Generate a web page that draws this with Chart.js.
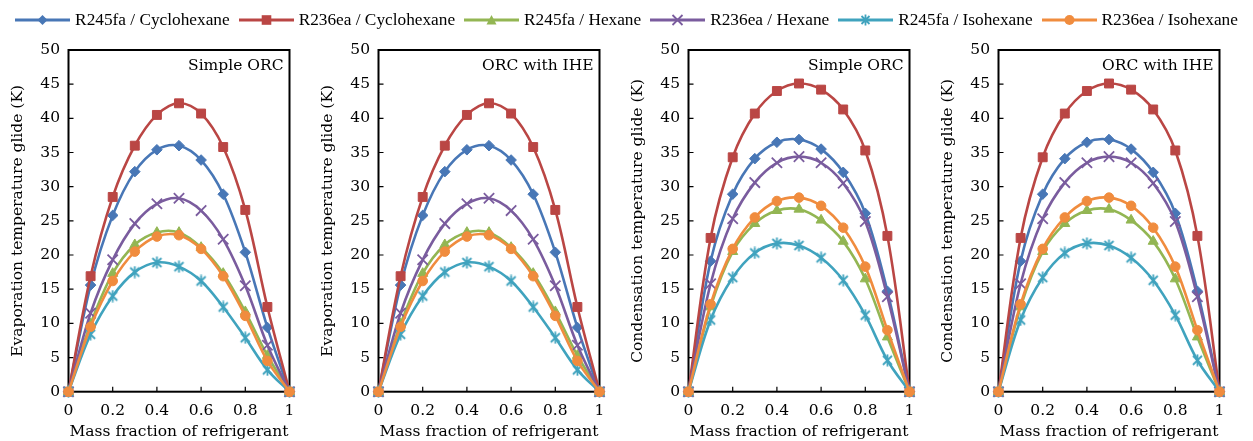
<!DOCTYPE html>
<html>
<head>
<meta charset="utf-8">
<script src="https://cdn.jsdelivr.net/npm/chart.js@4.4.1/dist/chart.umd.min.js"></script>
<style>
  html, body { margin: 0; padding: 0; background: #fff; }
  #wrap { position: relative; width: 1253px; height: 441px; overflow: hidden; }
  #wrap canvas { position: absolute; top: 0; }
  #legend {
    position: absolute; top: 9px; left: 0; width: 1253px; z-index: 2;
    display: flex; justify-content: center; gap: 9px;
    font-family: "Liberation Serif", serif; font-size: 17.3px; line-height: 22px; color: #000;
  }
  .item { display: flex; align-items: center; white-space: nowrap; }
  .item svg { margin-right: 5px; }
</style>
</head>
<body>
<div id="wrap">
  <div id="legend"></div>
  <canvas id="p1" width="310" height="441" style="left:0px"></canvas>
  <canvas id="p2" width="310" height="441" style="left:310px"></canvas>
  <canvas id="p3" width="310" height="441" style="left:620px"></canvas>
  <canvas id="p4" width="323" height="441" style="left:930px"></canvas>
</div>
<script>
// Mass fraction of refrigerant in the mixture
const massFraction = [0, 0.1, 0.2, 0.3, 0.4, 0.5, 0.6, 0.7, 0.8, 0.9, 1];

const seriesNames = [
  'R245fa / Cyclohexane', 'R236ea / Cyclohexane', 'R245fa / Hexane',
  'R236ea / Hexane', 'R245fa / Isohexane', 'R236ea / Isohexane'
];

// Evaporation temperature glide (K)
const evapR245faCyclohexane = [0, 15.6, 25.8, 32.2, 35.4, 36.0, 33.9, 28.9, 20.4, 9.4, 0];
const evapR236eaCyclohexane = [0, 16.9, 28.5, 36.0, 40.5, 42.2, 40.7, 35.8, 26.6, 12.4, 0];
const evapR245faHexane      = [0, 9.9, 17.3, 21.5, 23.3, 23.3, 21.1, 17.3, 11.7, 5.3, 0];
const evapR236eaHexane      = [0, 11.5, 19.3, 24.6, 27.5, 28.3, 26.5, 22.3, 15.5, 6.8, 0];
const evapR245faIsohexane   = [0, 8.4, 14.0, 17.5, 18.9, 18.3, 16.2, 12.4, 7.9, 3.2, 0];
const evapR236eaIsohexane   = [0, 9.5, 16.2, 20.5, 22.7, 22.9, 20.9, 16.9, 11.1, 4.5, 0];

// Condensation temperature glide (K)
const condR245faCyclohexane = [0, 19.1, 28.9, 34.1, 36.5, 36.9, 35.5, 32.1, 26.1, 14.7, 0];
const condR236eaCyclohexane = [0, 22.5, 34.3, 40.7, 44.0, 45.1, 44.2, 41.3, 35.3, 22.8, 0];
const condR245faHexane      = [0, 12.4, 20.5, 24.6, 26.5, 26.7, 25.1, 22.0, 16.5, 8.0, 0];
const condR236eaHexane      = [0, 15.8, 25.3, 30.6, 33.5, 34.4, 33.5, 30.5, 24.9, 13.9, 0];
const condR245faIsohexane   = [0, 10.5, 16.7, 20.3, 21.7, 21.4, 19.6, 16.3, 11.2, 4.6, 0];
const condR236eaIsohexane   = [0, 12.8, 20.9, 25.5, 27.9, 28.4, 27.2, 24.0, 18.3, 9.0, 0];

const xTickValues = [0, 0.2, 0.4, 0.6, 0.8, 1];
const yTickValues = [0, 5, 10, 15, 20, 25, 30, 35, 40, 45, 50];

const panelLabels = ['Simple ORC', 'ORC with IHE', 'Simple ORC', 'ORC with IHE'];
const yAxisTitles = [
  'Evaporation temperature glide (K)', 'Evaporation temperature glide (K)',
  'Condensation temperature glide (K)', 'Condensation temperature glide (K)'
];

const evapSeries = [evapR245faCyclohexane, evapR236eaCyclohexane, evapR245faHexane,
                    evapR236eaHexane, evapR245faIsohexane, evapR236eaIsohexane];
const condSeries = [condR245faCyclohexane, condR236eaCyclohexane, condR245faHexane,
                    condR236eaHexane, condR245faIsohexane, condR236eaIsohexane];
const panelSeries = [evapSeries, evapSeries, condSeries, condSeries];

// Styling
const colors = ['#4877B6', '#BA4644', '#93B653', '#7A5C9E', '#40A3BE', '#F08C3E'];
const markerKinds = ['diamond', 'square', 'triangle', 'cross', 'asterisk', 'circle'];

// Asterisk marker (X with a vertical stroke)
function asteriskMarker(color) {
  const c = document.createElement('canvas');
  c.width = 13; c.height = 13;
  const g = c.getContext('2d');
  g.strokeStyle = color; g.lineWidth = 1.8; g.lineCap = 'butt';
  g.beginPath();
  g.moveTo(2, 2); g.lineTo(11, 11);
  g.moveTo(11, 2); g.lineTo(2, 11);
  g.moveTo(6.5, 0.5); g.lineTo(6.5, 12.5);
  g.stroke();
  return c;
}

function pointOptions(kind, color) {
  switch (kind) {
    case 'diamond':  return { pointStyle: 'rectRot', pointRadius: 5.3, pointBorderWidth: 1 };
    case 'square':   return { pointStyle: 'rect', pointRadius: 6.3, pointBorderWidth: 1 };
    case 'triangle': return { pointStyle: 'triangle', pointRadius: 5.8, pointBorderWidth: 1 };
    case 'cross':    return { pointStyle: 'crossRot', pointRadius: 7.3, pointBorderWidth: 1.8 };
    case 'asterisk': return { pointStyle: asteriskMarker(color), pointRadius: 6.5, pointBorderWidth: 0 };
    default:         return { pointStyle: 'circle', pointRadius: 4.8, pointBorderWidth: 1 };
  }
}

// Legend
function legendIcon(kind, color) {
  const cx = 27.5, cy = 7;
  let m = '';
  if (kind === 'diamond') m = `<polygon points="${cx-5},${cy} ${cx},${cy-5} ${cx+5},${cy} ${cx},${cy+5}" fill="${color}"/>`;
  else if (kind === 'square') m = `<rect x="${cx-4.8}" y="${cy-4.8}" width="9.6" height="9.6" fill="${color}"/>`;
  else if (kind === 'triangle') m = `<polygon points="${cx-5},${cy+4.5} ${cx},${cy-5} ${cx+5},${cy+4.5}" fill="${color}"/>`;
  else if (kind === 'cross') m = `<path d="M${cx-5} ${cy-5}L${cx+5} ${cy+5}M${cx+5} ${cy-5}L${cx-5} ${cy+5}" stroke="${color}" stroke-width="1.8"/>`;
  else if (kind === 'asterisk') m = `<path d="M${cx-4} ${cy-4}L${cx+4} ${cy+4}M${cx+4} ${cy-4}L${cx-4} ${cy+4}M${cx} ${cy-5.5}L${cx} ${cy+5.5}" stroke="${color}" stroke-width="1.8"/>`;
  else m = `<circle cx="${cx}" cy="${cy}" r="5" fill="${color}"/>`;
  return `<svg width="55" height="14" viewBox="0 0 55 14"><line x1="0" y1="${cy}" x2="55" y2="${cy}" stroke="${color}" stroke-width="3"/>${m}</svg>`;
}
document.getElementById('legend').innerHTML = seriesNames.map((name, i) =>
  `<div class="item">${legendIcon(markerKinds[i], colors[i])}<span>${name}</span></div>`).join('');

Chart.defaults.font.family = '"DejaVu Serif", serif';
Chart.defaults.font.size = 15.5;
Chart.defaults.color = '#000';

// Box frame, inward tick marks and the panel caption
const framePlugin = {
  id: 'frame',
  beforeDatasetsDraw(chart) {
    const { ctx, chartArea: a, scales } = chart;
    ctx.save();
    ctx.strokeStyle = '#000';
    ctx.lineWidth = 1.2;
    ctx.beginPath();
    xTickValues.forEach(v => {
      const px = scales.x.getPixelForValue(v);
      ctx.moveTo(px, a.bottom); ctx.lineTo(px, a.bottom - 5);
    });
    yTickValues.forEach(v => {
      const py = scales.y.getPixelForValue(v);
      ctx.moveTo(a.left, py); ctx.lineTo(a.left + 5, py);
    });
    ctx.stroke();
    ctx.lineWidth = 2;
    ctx.strokeRect(a.left, a.top, a.right - a.left, a.bottom - a.top);
    ctx.restore();
  },
  afterDraw(chart, args, opts) {
    const { ctx, chartArea: a } = chart;
    ctx.save();
    ctx.font = '15.5px "DejaVu Serif", serif';
    ctx.fillStyle = '#000';
    ctx.textAlign = 'right';
    ctx.textBaseline = 'alphabetic';
    ctx.fillText(opts.text, a.right - 6, a.top + 20);
    ctx.restore();
  }
};

function buildPanel(id, idx, rightPad) {
  const datasets = panelSeries[idx].map((values, i) => Object.assign({
    label: seriesNames[i],
    data: massFraction.map((x, k) => ({ x: x, y: values[k] })),
    borderColor: colors[i],
    backgroundColor: colors[i],
    pointBackgroundColor: colors[i],
    pointBorderColor: colors[i],
    borderWidth: 2.6,
    tension: 0.35,
    clip: false,
    order: 6 - i
  }, pointOptions(markerKinds[i], colors[i])));

  new Chart(document.getElementById(id), {
    type: 'line',
    data: { datasets },
    plugins: [framePlugin],
    options: {
      responsive: false,
      animation: false,
      events: [],
      layout: { padding: { left: 0, right: rightPad, top: 50, bottom: 0 } },
      plugins: {
        legend: { display: false },
        tooltip: { enabled: false },
        frame: { text: panelLabels[idx] }
      },
      scales: {
        x: {
          type: 'linear', min: 0, max: 1,
          afterBuildTicks: s => { s.ticks = xTickValues.map(v => ({ value: v })); },
          afterFit: s => { s.height = 49.3; },
          grid: { display: false, drawTicks: false },
          border: { display: false },
          ticks: { padding: 9.5, maxRotation: 0, autoSkip: false,
                   callback: v => String(v) },
          title: { display: true, text: 'Mass fraction of refrigerant',
                   padding: { top: 0, bottom: 0 } }
        },
        y: {
          type: 'linear', min: 0, max: 50,
          afterBuildTicks: s => { s.ticks = yTickValues.map(v => ({ value: v })); },
          afterFit: s => { s.width = 68.5; },
          grid: { display: false, drawTicks: false },
          border: { display: false },
          ticks: { padding: 8.5, autoSkip: false, callback: v => String(v) },
          title: { display: true, text: yAxisTitles[idx],
                   padding: { top: 9, bottom: 0 } }
        }
      }
    }
  });
}

buildPanel('p1', 0, 20.5);
buildPanel('p2', 1, 20.5);
buildPanel('p3', 2, 20.5);
buildPanel('p4', 3, 33.5);
</script>
</body>
</html>
